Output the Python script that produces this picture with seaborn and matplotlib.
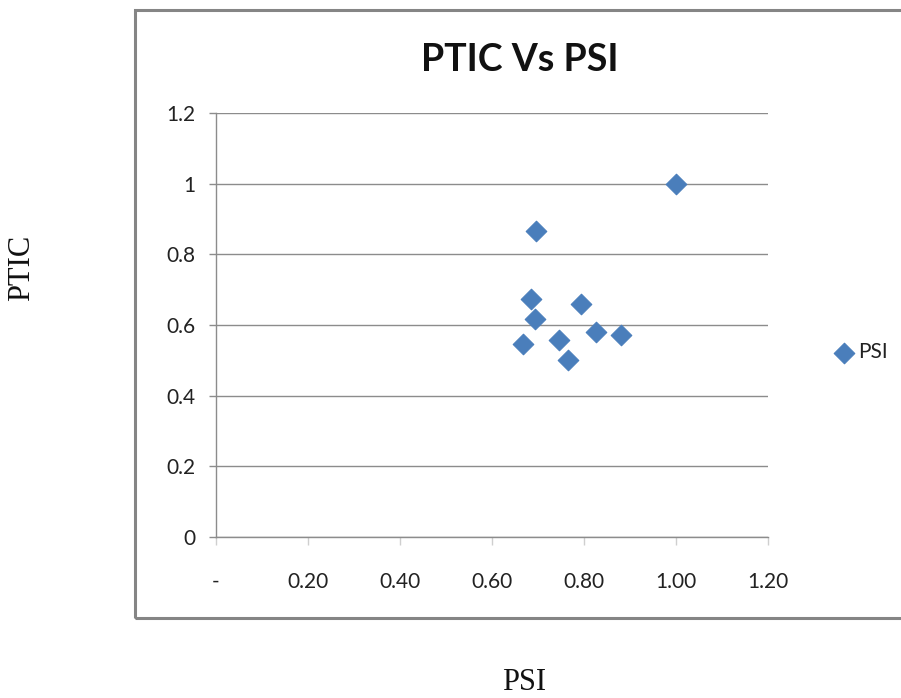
import matplotlib
matplotlib.use("Agg")
import matplotlib.pyplot as plt
import matplotlib.patches as mpatches
import seaborn as sns
import pandas as pd

# PSI / PTIC pairs
psi = [1.00, 0.695, 0.684, 0.693, 0.794, 0.667, 0.746, 0.765, 0.827, 0.880]
ptic = [1.00, 0.866, 0.673, 0.618, 0.659, 0.546, 0.558, 0.500, 0.579, 0.571]

x_ticks = [0.0, 0.2, 0.4, 0.6, 0.8, 1.0, 1.2]
x_tick_labels = ["-", "0.20", "0.40", "0.60", "0.80", "1.00", "1.20"]
y_ticks = [0.0, 0.2, 0.4, 0.6, 0.8, 1.0, 1.2]
y_tick_labels = ["0", "0.2", "0.4", "0.6", "0.8", "1", "1.2"]

df = pd.DataFrame({"PSI": psi, "PTIC": ptic})

sns.set_theme(style="white")
plt.rcParams["font.family"] = ["Lato", "DejaVu Sans"]

W, H = 901, 698
fig = plt.figure(figsize=(W / 100, H / 100), dpi=100)
ax = fig.add_axes([216 / W, 1 - 537 / H, (768 - 216) / W, (537 - 113) / H])

blue = "#4a7ebb"
sns.scatterplot(data=df, x="PSI", y="PTIC", marker="D", s=110, color=blue,
                edgecolor=blue, linewidth=0.8, label="PSI", ax=ax, zorder=3)

ax.set_xlim(0, 1.2)
ax.set_ylim(0, 1.2)
ax.set_xticks(x_ticks)
ax.set_xticklabels(x_tick_labels)
ax.set_yticks(y_ticks)
ax.set_yticklabels(y_tick_labels)
ax.set_xlabel("")
ax.set_ylabel("")

grid_c = "#8c8c8c"
ax.yaxis.grid(True, color=grid_c, linewidth=1.0)
ax.xaxis.grid(False)
for side in ["top", "right"]:
    ax.spines[side].set_visible(False)
for side in ["left", "bottom"]:
    ax.spines[side].set_color(grid_c)
    ax.spines[side].set_linewidth(1.0)

ax.tick_params(axis="y", which="major", length=5, width=1, color=grid_c,
               direction="out", pad=10, labelsize=15, labelcolor="#222222", left=True)
ax.tick_params(axis="x", which="major", length=6, width=1, color="#cfcfcf",
               direction="out", pad=19, labelsize=15, labelcolor="#222222", bottom=True)

leg = ax.legend(loc="center left", bbox_to_anchor=(831 / W, 1 - 352 / H),
                bbox_transform=fig.transFigure, frameon=False, fontsize=15,
                handletextpad=0.1, borderpad=0, borderaxespad=0, handlelength=1.2)
for t in leg.get_texts():
    t.set_color("#222222")

# chart-area frame
frame = mpatches.Rectangle((135 / W, 1 - 618 / H), (W + 20 - 135) / W, (618 - 10) / H,
                           transform=fig.transFigure, fill=False,
                           edgecolor="#858585", linewidth=2.2, zorder=0)
fig.patches.append(frame)

fig.text(520 / W, 1 - 60 / H, "PTIC Vs PSI", ha="center", va="center",
         fontsize=27, fontweight="bold", color="#111111")

fig.text(22 / W, 1 - 268 / H, "PTIC", rotation=90, ha="center", va="center",
         fontsize=22, family=["Liberation Serif", "DejaVu Serif"], color="#111111")
fig.text(524 / W, 1 - 682 / H, "PSI", ha="center", va="center",
         fontsize=22, family=["Liberation Serif", "DejaVu Serif"], color="#111111")

fig.savefig("out.png", dpi=100)
